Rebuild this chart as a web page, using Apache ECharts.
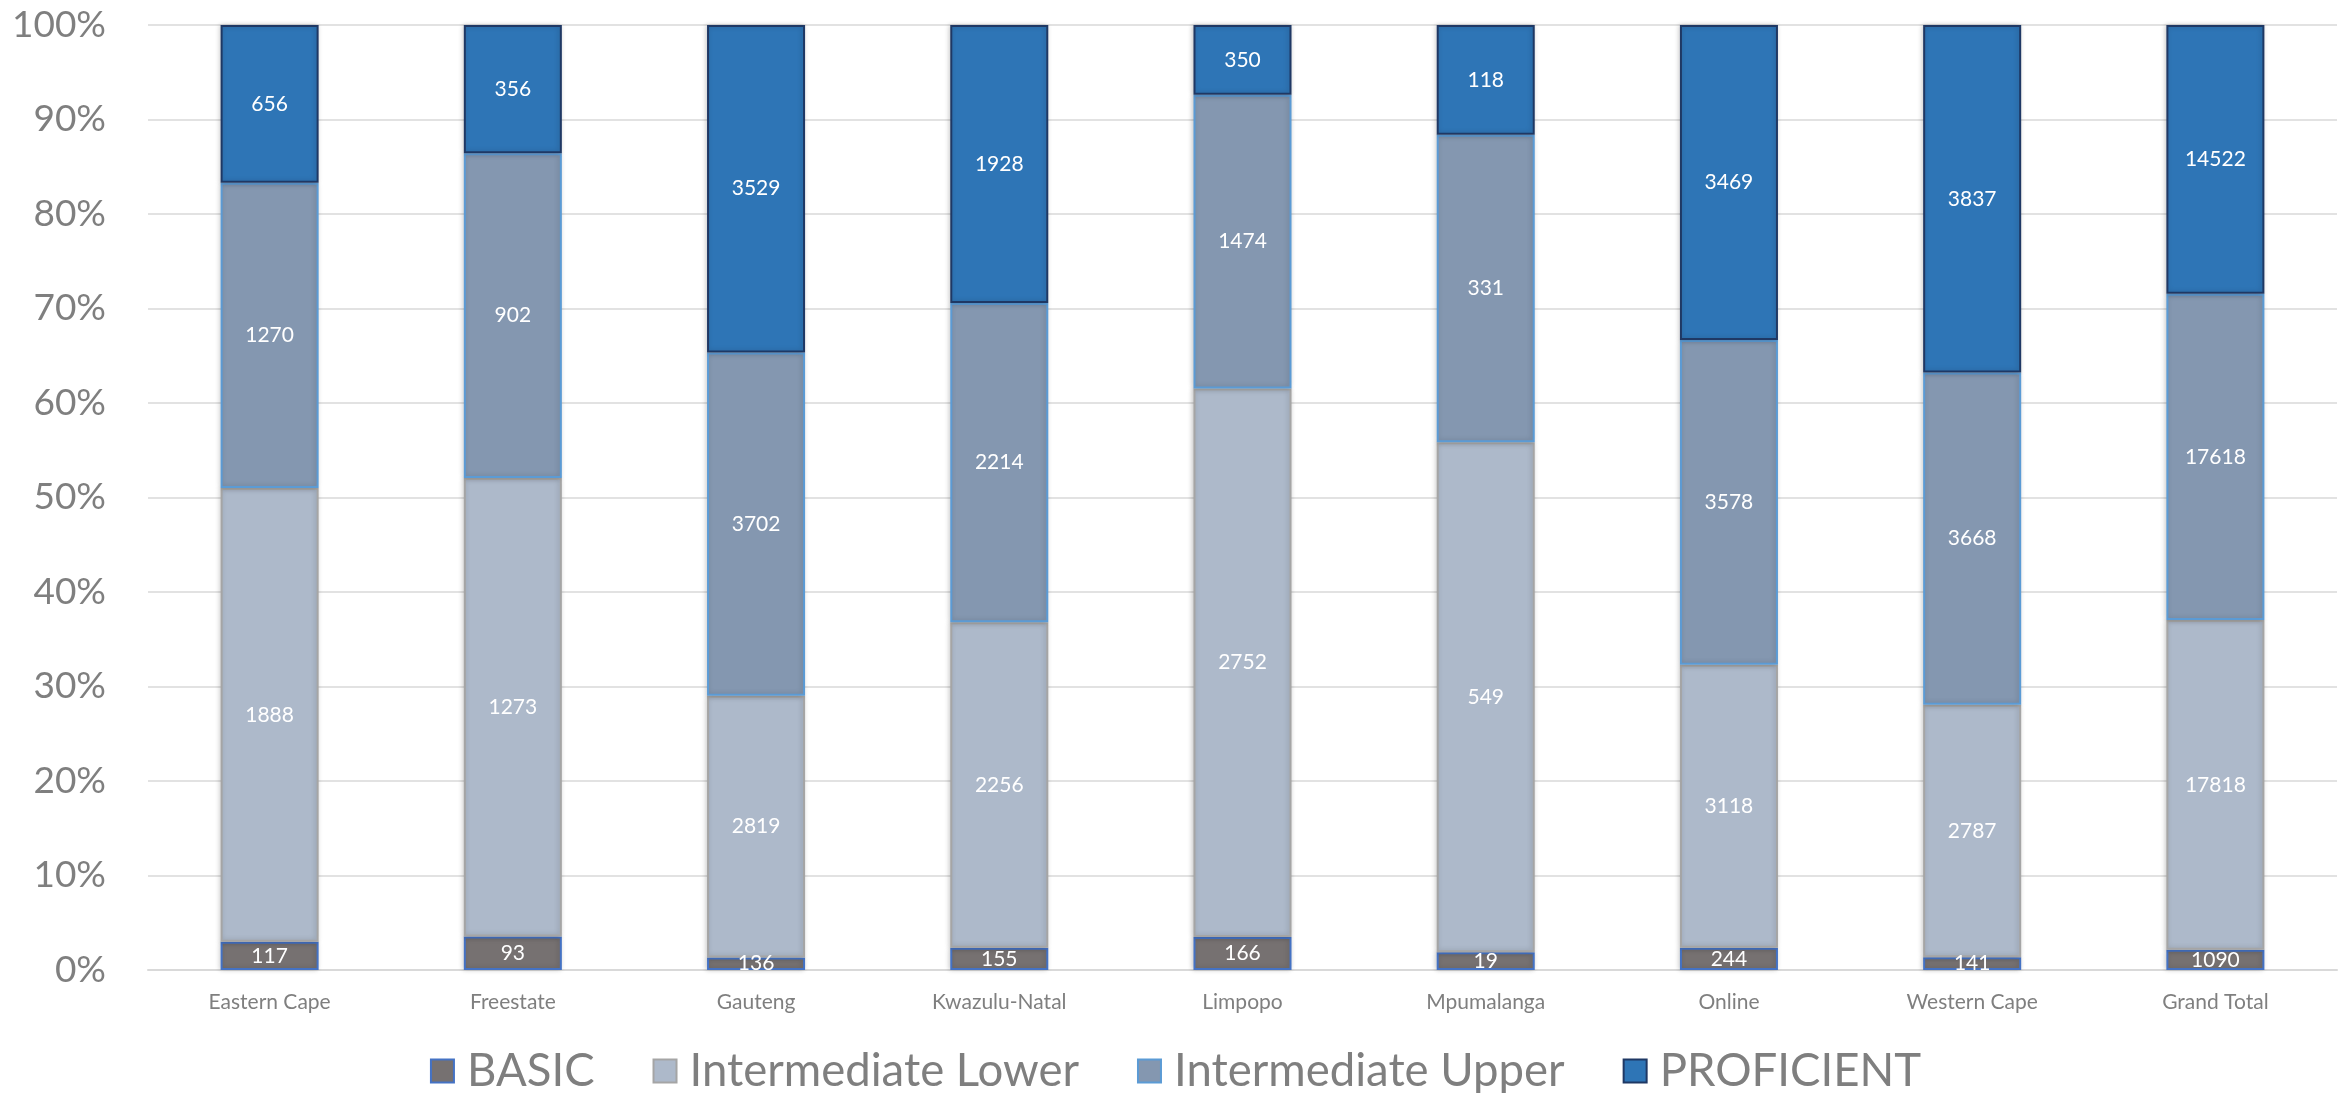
<!DOCTYPE html>
<html>
<head>
<meta charset="utf-8">
<script src="https://cdn.jsdelivr.net/npm/echarts@6/dist/echarts.min.js"></script>
<style>
html,body{margin:0;padding:0;background:#fff;}
#c{width:2351px;height:1093px;}
</style>
</head>
<body>
<div id="c"></div>
<script>
const categories = ['Eastern Cape','Freestate','Gauteng','Kwazulu-Natal','Limpopo','Mpumalanga','Online','Western Cape','Grand Total'];
const seriesNames = ['BASIC','Intermediate Lower','Intermediate Upper','PROFICIENT'];
const basic = [117, 93, 136, 155, 166, 19, 244, 141, 1090];
const interLower = [1888, 1273, 2819, 2256, 2752, 549, 3118, 2787, 17818];
const interUpper = [1270, 902, 3702, 2214, 1474, 331, 3578, 3668, 17618];
const proficient = [656, 356, 3529, 1928, 350, 118, 3469, 3837, 14522];
const yTicks = [0,10,20,30,40,50,60,70,80,90,100];

const counts = [basic, interLower, interUpper, proficient];
const totals = categories.map((c,i)=>counts.reduce((s,a)=>s+a[i],0));
const fills = ['#767171','#ADB9CA','#8497B0','#2E75B6'];
const borders = ['#4472C4','#A5A5A5','#5B9BD5','#1F3864'];
const font = 'Lato, "Open Sans", sans-serif';

const chart = echarts.init(document.getElementById('c'));
chart.setOption({
  animation:false,
  backgroundColor:'#fff',
  grid:{left:148,right:14,top:25,bottom:123,containLabel:false},
  legend:{
    top:1043,left:'center',itemWidth:23,itemHeight:23,itemGap:58,icon:'rect',
    textStyle:{fontSize:45.5,color:'#7f7f7f',fontFamily:font,padding:[0,0,0,8]},
    data:seriesNames
  },
  xAxis:{
    type:'category',data:categories,
    axisLine:{lineStyle:{color:'#d9d9d9',width:2}},
    axisTick:{show:false},
    axisLabel:{fontSize:21,color:'#7f7f7f',fontFamily:font,margin:22}
  },
  yAxis:{
    type:'value',min:yTicks[0],max:yTicks[yTicks.length-1],interval:10,
    axisLine:{show:false},axisTick:{show:false},
    splitLine:{lineStyle:{color:'#d9d9d9',width:1.5}},
    axisLabel:{formatter:'{value}%',fontSize:37,color:'#7f7f7f',fontFamily:font,margin:42}
  },
  series: seriesNames.map((name,k)=>({
    name,type:'bar',stack:'total',barCategoryGap:'59.7%',
    data: counts[k].map((v,i)=>v/totals[i]*100),
    itemStyle:{color:fills[k],borderColor:borders[k],borderWidth:2,
      shadowBlur:5,shadowColor:'rgba(0,0,0,0.2)',shadowOffsetX:-1},
    label:{show:true,position:'inside',color:'#fff',fontSize:21,fontFamily:font,
      formatter:p=>String(counts[k][p.dataIndex])}
  }))
});
</script>
</body>
</html>
